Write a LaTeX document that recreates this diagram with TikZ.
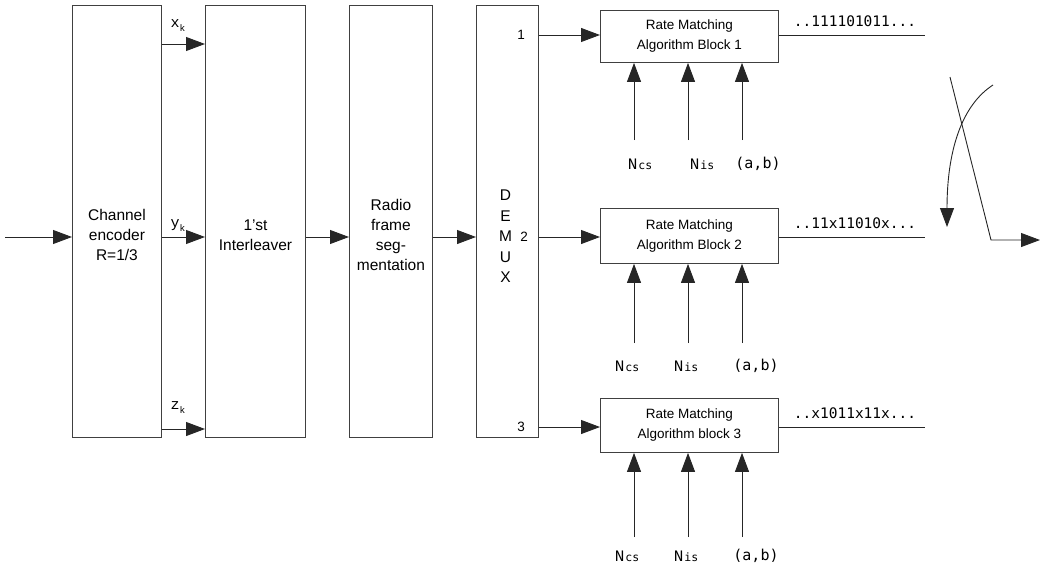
\documentclass[tikz,border=0pt]{standalone}
\usepackage{fontspec}
\setmainfont{Liberation Sans}
\newfontfamily\courfont{Liberation Mono}
\newfontfamily\dvmfont{DejaVu Sans Mono}
\usetikzlibrary{arrows.meta}
\begin{document}
\begin{tikzpicture}[x=1pt,y=-1pt,
  blk/.style={draw=black!75, line width=0.9pt, anchor=north west, inner sep=0pt},
  arr/.style={draw=black!85, line width=0.9pt, -{Triangle[length=19pt,width=14pt]}},
  ln/.style={draw=black!85, line width=0.9pt},
  bigtxt/.style={font=\fontsize{15.5}{20}\selectfont, align=center},
  rmtxt/.style={font=\fontsize{13.5}{20}\selectfont, align=center},
  num/.style={font=\fontsize{13.5}{14}\selectfont},
  bits/.style={font=\dvmfont\fontsize{14.5}{16}\selectfont},
  sub/.style={font=\courfont\fontsize{15}{16}\selectfont}
]
\useasboundingbox (0,0) rectangle (1040,567);

% main boxes
\node[blk, minimum width=89pt, minimum height=432pt,
  label={[bigtxt, yshift=-14pt]center:Channel\\encoder\\R=1/3}] (enc) at (72,5) {};
\node[blk, minimum width=100pt, minimum height=432pt,
  label={[bigtxt, yshift=-14pt]center:1'st\\Interleaver}] (il) at (205,5) {};
\node[blk, minimum width=83pt, minimum height=432pt,
  label={[bigtxt, yshift=-14pt]center:Radio\\frame\\seg-\\mentation}] (rf) at (349,5) {};
\node[blk, minimum width=62pt, minimum height=432pt,
  label={[font=\fontsize{15.5}{20.5}\selectfont, align=center, yshift=-15pt, xshift=-2pt]center:D\\E\\M\\U\\X}] (dm) at (476,5) {};

% rate matching blocks
\node[blk, minimum width=178pt, minimum height=52pt,
  label={[rmtxt]center:Rate Matching\\Algorithm Block 1}] (rm1) at (600,10) {};
\node[blk, minimum width=178pt, minimum height=55pt,
  label={[rmtxt]center:Rate Matching\\Algorithm Block 2}] (rm2) at (600,208) {};
\node[blk, minimum width=178pt, minimum height=54pt,
  label={[rmtxt]center:Rate Matching\\Algorithm block 3}] (rm3) at (600,398) {};

% ports
\coordinate (in) at (5,237);
\coordinate (px) at (0,44);
\coordinate (py) at (0,237);
\coordinate (pz) at (0,429);
\coordinate (p1) at (0,35);
\coordinate (p3) at (0,427);

\draw[arr] (in) -- (enc.west |- in);
\draw[arr] (enc.east |- px) -- (il.west |- px);
\draw[arr] (enc.east |- py) -- (il.west |- py);
\draw[arr] (enc.east |- pz) -- (il.west |- pz);
\draw[arr] (il.east |- py) -- (rf.west |- py);
\draw[arr] (rf.east |- py) -- (dm.west |- py);
\draw[arr] (dm.east |- p1) -- (rm1.west |- p1);
\draw[arr] (dm.east |- py) -- (rm2.west |- py);
\draw[arr] (dm.east |- p3) -- (rm3.west |- p3);

% x_k, y_k, z_k labels
\node[sub] (lx) at (178,26) {x\raisebox{-4pt}{\fontsize{9.5}{10}\selectfont k}};
\node[sub] (ly) at (178,226) {y\raisebox{-4pt}{\fontsize{9.5}{10}\selectfont k}};
\node[sub] (lz) at (178,408) {z\raisebox{-4pt}{\fontsize{9.5}{10}\selectfont k}};

% demux numbers
\node[num] (n1) at (521,35) {1};
\node[num] (n2) at (524,237) {2};
\node[num] (n3) at (521,427) {3};

% outputs
\coordinate (o1) at (925,35);
\coordinate (o2) at (925,237);
\coordinate (o3) at (925,427);
\draw[ln] (rm1.east |- o1) -- (o1);
\draw[ln] (rm2.east |- o2) -- (o2);
\draw[ln] (rm3.east |- o3) -- (o3);
\node[bits] (b1) at (855,21) {..111101011...};
\node[bits] (b2) at (855,223) {..11x11010x...};
\node[bits] (b3) at (855,413) {..x1011x11x...};

% control inputs
\foreach \blk/\ys/\yl/\xa/\xb/\xc in {rm1/140/164/640/702/758, rm2/343/366/627/686/756, rm3/537/556/627/686/756}{
  \coordinate (ca) at (634,\ys);
  \coordinate (cb) at (688,\ys);
  \coordinate (cc) at (742,\ys);
  \draw[arr] (ca) -- (\blk.south -| ca);
  \draw[arr] (cb) -- (\blk.south -| cb);
  \draw[arr] (cc) -- (\blk.south -| cc);
  \node[anchor=center] at (\xa,\yl) {\courfont\fontsize{16}{16}\selectfont N\hspace{1pt}\dvmfont\fontsize{11.5}{12}\selectfont cs};
  \node[anchor=center] at (\xb,\yl) {\courfont\fontsize{16}{16}\selectfont N\hspace{1pt}\dvmfont\fontsize{11.5}{12}\selectfont is};
  \node[anchor=center, font=\dvmfont\fontsize{15}{16}\selectfont] at (\xc,\yl) {(a,b)};
}

% crossing symbol
\coordinate (s1) at (950,77);
\coordinate (s2) at (991,240);
\coordinate (s3) at (1040,240);
\draw[arr] (s1) -- (s2) -- (s3);
\coordinate (c1) at (993,85);
\coordinate (c2) at (962,105);
\coordinate (c3) at (947,150);
\coordinate (c4) at (947,227);
\draw[arr] (c1) .. controls (c2) and (c3) .. (c4);
\end{tikzpicture}
\end{document}
